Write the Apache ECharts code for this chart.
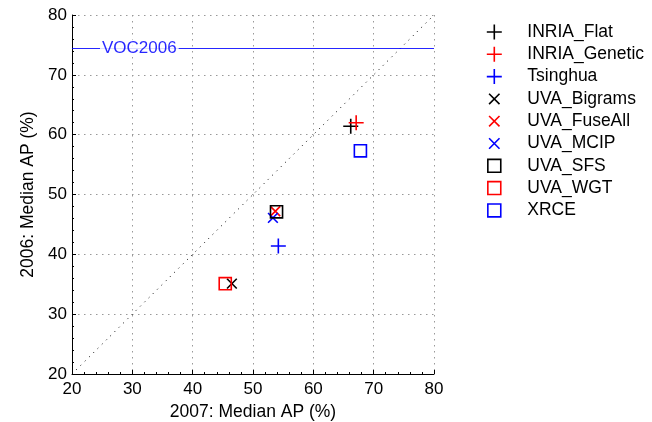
<!DOCTYPE html>
<html>
<head>
<meta charset="utf-8">
<script src="https://cdn.jsdelivr.net/npm/echarts@6/dist/echarts.min.js"></script>
<style>
  html, body { margin: 0; padding: 0; background: #fff; }
  #chart { width: 652px; height: 422px; }
</style>
</head>
<body>
<div id="chart"></div>
<script>
// method names and median AP, [2007, 2006]
const methods = ['INRIA_Flat', 'INRIA_Genetic', 'Tsinghua', 'UVA_Bigrams', 'UVA_FuseAll', 'UVA_MCIP', 'UVA_SFS', 'UVA_WGT', 'XRCE']
const ap2007 = [66.2, 67.1, 54.2, 46.5, 53.7, 53.3, 53.9, 45.4, 67.8]
const ap2006 = [61.4, 62.0, 41.4, 35.1, 47.2, 46.1, 47.1, 35.1, 57.3]
const colors = ['#000', '#ff0000', '#0000ff', '#000', '#ff0000', '#0000ff', '#000', '#ff0000', '#0000ff']
const markers = ['plus', 'plus', 'plus', 'cross', 'cross', 'cross', 'square', 'square', 'square']
const voc2006 = 74.5
const diagonal = [[20, 20], [80, 80]]
const xTicks = [20, 80, 10]
const yTicks = [20, 80, 10]

const symbolPaths = {
  plus: 'path://M0,5 L10,5 M5,0 L5,10',
  // zero-length moves widen the box so the cross draws smaller than the plus
  cross: 'path://M-2.2,-2.2 L-2.2,-2.2 M12.2,12.2 L12.2,12.2 M0,0 L10,10 M10,0 L0,10',
  square: 'path://M-0.8,-0.8 L-0.8,-0.8 M10.8,10.8 L10.8,10.8 M0,0 L10,0 L10,10 L0,10 Z'
}
const symbolSizes = { plus: 15, cross: 14, square: 14 }

const font = 'Liberation Sans, Arial, Helvetica, sans-serif'

const chart = echarts.init(document.getElementById('chart'))

const series = methods.map((name, i) => ({
  name: name,
  type: 'scatter',
  data: [[ap2007[i], ap2006[i]]],
  symbol: symbolPaths[markers[i]],
  symbolSize: symbolSizes[markers[i]],
  itemStyle: {
    color: 'rgba(0,0,0,0)',
    borderColor: colors[i],
    borderWidth: 1.6,
    opacity: 1
  },
  emphasis: { disabled: true },
  z: 5
}))

// y = x reference line
series.push({
  name: 'diag',
  type: 'line',
  data: diagonal,
  symbol: 'none',
  silent: true,
  lineStyle: { color: '#000', width: 1, type: [1, 5] },
  z: 2
})

// VOC2006 level
series.push({
  name: 'voc',
  type: 'line',
  data: [],
  silent: true,
  color: '#0000ff',
  markLine: {
    symbol: 'none',
    silent: true,
    lineStyle: { color: '#0000ff', width: 1, type: 'solid', opacity: 0.85 },
    label: {
      show: true,
      position: 'insideStart',
      formatter: 'VOC2006',
      color: '#0000ff',
      fontSize: 17,
      fontFamily: font,
      backgroundColor: '#fff',
      padding: [0, 2],
      distance: 28
    },
    data: [{ yAxis: voc2006 }]
  },
  z: 3
})

const axisCommon = {
  type: 'value',
  interval: 10,
  nameLocation: 'middle',
  nameTextStyle: { color: '#000', fontSize: 17.5, fontFamily: font },
  axisLine: { show: true, onZero: false, lineStyle: { color: '#000', width: 1 } },
  axisTick: { show: true, inside: true, length: 4, lineStyle: { color: '#000' } },
  minorTick: { show: true, splitNumber: 5, length: 2, lineStyle: { color: '#000' } },
  axisLabel: { color: '#000', fontSize: 17, fontFamily: font },
  splitLine: { show: true, lineStyle: { color: '#999', width: 1, type: [1.5, 4.5] } }
}

chart.setOption({
  backgroundColor: '#fff',
  animation: false,
  grid: { left: 72, right: 218, top: 15, bottom: 48, outerBoundsMode: 'none', containLabel: false },
  xAxis: Object.assign({}, axisCommon, {
    min: xTicks[0], max: xTicks[1], interval: xTicks[2],
    name: '2007: Median AP (%)',
    nameGap: 25,
    axisLabel: Object.assign({}, axisCommon.axisLabel, { margin: 7 })
  }),
  yAxis: Object.assign({}, axisCommon, {
    min: yTicks[0], max: yTicks[1], interval: yTicks[2],
    name: '2006: Median AP (%)',
    nameGap: 32,
    axisLabel: Object.assign({}, axisCommon.axisLabel, { margin: 5 })
  }),
  legend: {
    orient: 'vertical',
    left: 481,
    top: 18,
    itemWidth: 56,
    itemHeight: 15,
    itemGap: 4.3,
    symbolKeepAspect: true,
    selectedMode: false,
    data: methods.map((name, i) => ({
      name: name,
      icon: symbolPaths[markers[i]],
      itemStyle: { color: 'rgba(0,0,0,0)', borderColor: colors[i], borderWidth: 1.6 }
    })),
    textStyle: { color: '#000', fontSize: 17.5, fontFamily: font, lineHeight: 17.5 }
  },
  series: series
})
</script>
</body>
</html>
